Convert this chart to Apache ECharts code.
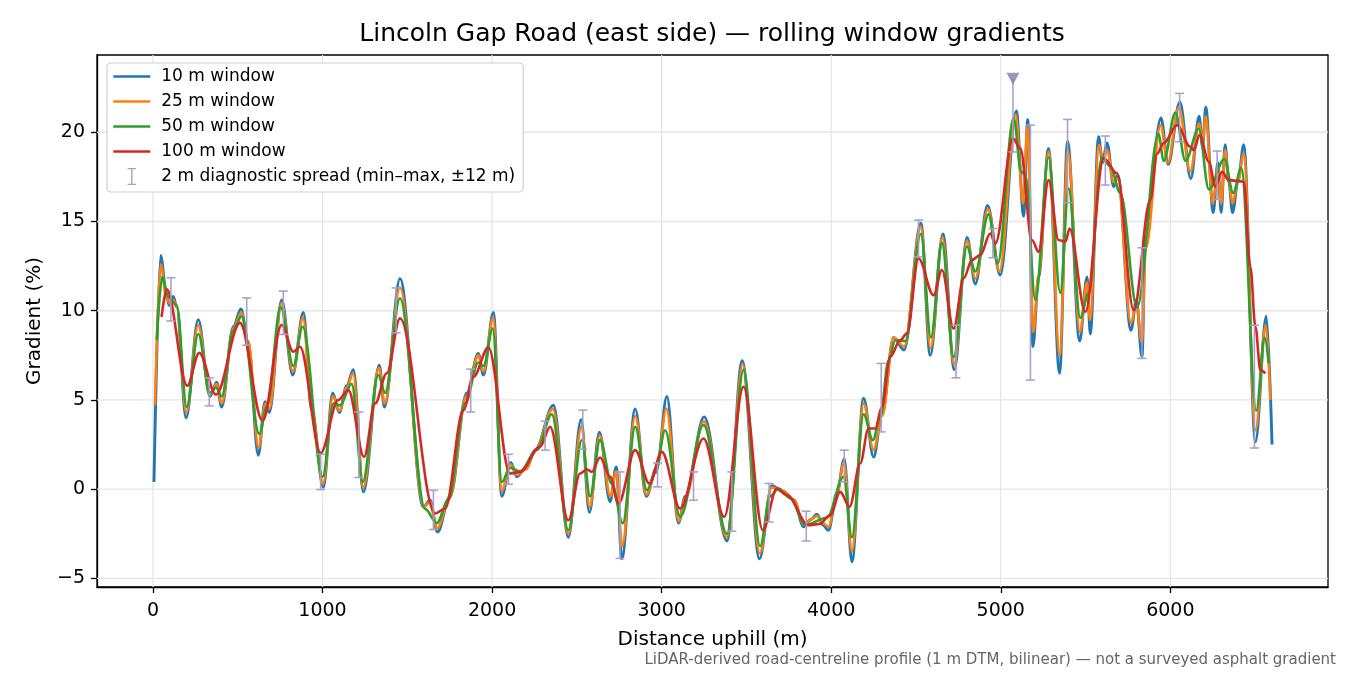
<!DOCTYPE html>
<html>
<head>
<meta charset="utf-8">
<script src="https://cdn.jsdelivr.net/npm/echarts@6/dist/echarts.min.js"></script>
<style>html,body{margin:0;padding:0;background:#fff}#c{width:1350px;height:675px}</style>
</head>
<body>
<div id="c"></div>
<script>
// ---- data ----
const xTicks = [0, 1000, 2000, 3000, 4000, 5000, 6000];
const yTicks = [-5, 0, 5, 10, 15, 20];

const d10 = [6,45,81,96,120,140,195,267,336,376,405,474,519,562,621,661,686,759,824,887,936,1005,1060,1099,1143,1182,1241,1335,1365,1457,1595,1634,1678,1752,1851,1919,1949,2008,2057,2110,2146,2200,2254,2362,2450,2525,2574,2633,2696,2732,2765,2844,2909,2972,3031,3099,3139,3251,3385,3475,3577,3650,3719,3780,3837,3880,3916,3950,3984,4033,4077,4122,4191,4250,4300,4368,4430,4529,4584,4659,4726,4801,4850,4922,4997,5092,5135,5159,5190,5223,5282,5347,5394,5465,5509,5528,5577,5600,5627,5666,5690,5768,5800,5833,5853,5945,5987,6056,6121,6170,6190,6209,6253,6280,6300,6323,6345,6367,6400,6433,6502,6566,6600];
const g10 = [0.4,13.1,10.8,10.3,10.8,10.2,4.0,9.5,5.2,6.0,4.6,9.1,10.1,8.2,1.9,4.9,4.3,10.6,6.4,9.9,4.4,0.1,5.4,4.3,5.8,6.7,-0.15,6.95,4.6,11.8,-1.0,-0.6,-2.4,-0.4,5.4,7.6,6.4,9.9,-0.4,1.5,0.7,1.2,2.2,4.7,-2.7,3.9,-1.3,3.2,-0.7,1.25,-3.9,4.5,-0.4,1.25,5.2,-1.9,-0.4,4.05,-2.9,7.2,-3.9,0.2,-0.15,-0.6,-2.1,-1.7,-1.4,-2.0,-2.3,-0.24,1.7,-4.07,5.1,1.8,4.2,8.5,7.8,14.9,7.5,14.3,6.7,14.1,11.5,15.9,12.0,21.2,15.3,20.7,8.0,11.9,19.1,6.5,19.5,8.3,11.9,8.7,19.75,18.3,19.4,16.95,17.6,8.9,10.6,7.4,14.1,20.8,18.2,21.7,17.4,20.9,19.2,21.4,15.5,18.3,15.5,19.3,17.2,15.5,17.3,19.3,2.65,9.7,2.5];

const d25 = [12,45,81,100,120,140,196,267,336,376,405,474,521,562,623,663,686,757,826,885,936,1003,1062,1100,1143,1180,1240,1333,1366,1457,1597,1634,1676,1750,1848,1919,1949,2006,2057,2108,2146,2200,2256,2358,2450,2527,2576,2635,2698,2732,2767,2844,2911,2970,3028,3102,3139,3249,3385,3478,3579,3648,3719,3780,3840,3880,3916,3950,3984,4033,4075,4122,4191,4250,4300,4368,4430,4529,4586,4656,4724,4801,4850,4925,4992,5088,5132,5157,5192,5223,5282,5348,5396,5467,5509,5526,5580,5605,5627,5666,5690,5768,5800,5833,5855,5943,5985,6050,6118,6170,6190,6209,6250,6280,6300,6323,6345,6367,6400,6433,6502,6563,6590];
const g25 = [4.7,12.6,10.7,10.4,10.6,10.2,4.3,9.2,5.3,5.9,4.8,9.0,9.9,8.3,2.3,4.8,4.5,10.4,6.6,9.6,4.6,0.3,5.2,4.4,5.7,6.5,0.1,6.8,4.8,11.3,-1.0,-0.7,-2.2,-0.5,5.2,7.5,6.6,9.6,-0.1,1.4,0.8,1.1,2.2,4.5,-2.5,3.5,-1.0,3.0,-0.4,1.0,-3.2,4.1,-0.3,1.1,4.5,-1.8,-0.5,3.8,-2.7,7.0,-3.6,0.1,-0.1,-0.6,-2.0,-1.7,-1.5,-1.9,-2.1,-0.3,1.5,-3.5,4.8,2.2,4.1,8.5,8.0,14.7,7.9,14.1,7.0,13.9,11.8,15.7,12.2,21.0,16.0,20.3,8.8,12.0,18.9,7.5,19.0,8.8,11.6,9.5,19.3,18.4,19.0,17.2,17.4,9.3,10.3,8.2,13.5,20.4,18.3,21.4,17.8,20.5,19.5,20.9,16.0,18.0,16.0,19.0,17.3,16.0,17.3,18.8,3.3,9.2,5.0];

const d50 = [22,55,90,140,199,267,336,372,405,474,523,627,671,753,828,883,1001,1064,1103,1172,1237,1329,1369,1457,1605,1674,1742,1841,1919,1949,2004,2057,2106,2165,2264,2352,2450,2529,2578,2637,2706,2771,2844,2913,2962,3021,3109,3247,3385,3483,3581,3640,3689,3758,3847,3975,4073,4122,4191,4246,4289,4338,4378,4437,4529,4588,4653,4722,4801,4850,4928,4982,5076,5120,5145,5204,5282,5351,5400,5469,5518,5597,5646,5705,5804,5930,5961,6030,6089,6168,6227,6319,6371,6418,6507,6556,6580];
const g50 = [8.35,11.9,10.8,10.3,4.6,8.7,5.4,5.7,5.2,8.9,9.7,3.1,4.6,10.2,6.9,9.1,0.7,4.8,4.7,5.9,0.4,6.4,5.4,10.7,-1.1,-1.9,-0.6,4.8,7.1,6.9,9.0,0.4,1.2,1.0,2.2,4.2,-2.3,2.75,-0.4,2.75,0.3,-1.9,3.5,-0.06,0.9,3.3,-1.55,3.6,-2.5,6.7,-3.2,-0.4,0.04,-0.5,-2.0,-1.6,0.7,-2.7,4.2,2.75,4.05,7.2,8.35,8.3,14.3,8.5,13.8,7.4,13.6,12.2,15.4,12.65,20.8,17.8,17.6,10.6,18.6,11.0,16.85,9.6,11.0,18.6,18.1,16.6,10.2,19.9,18.4,21.1,18.4,20.2,16.8,18.5,16.6,18.0,4.4,8.5,7.05];

const d100 = [51,81,202,273,372,513,647,759,828,867,989,1093,1152,1245,1310,1379,1457,1664,1723,1831,1890,1978,2106,2165,2283,2342,2450,2519,2559,2588,2637,2696,2745,2844,2928,3001,3109,3247,3369,3483,3597,3680,3739,3866,3930,3994,4053,4108,4171,4220,4260,4299,4348,4407,4447,4515,4604,4653,4722,4781,4830,4879,4938,4968,5072,5115,5184,5223,5282,5341,5381,5406,5499,5607,5686,5784,5882,5922,5961,6040,6118,6138,6173,6227,6266,6305,6344,6433,6472,6502,6531,6561];
const g100 = [9.66,11.2,5.8,7.64,5.3,9.32,3.83,9.2,7.7,7.98,2.03,5.0,5.55,1.81,4.8,6.5,9.57,-1.36,-1.08,4.43,6.3,7.94,0.88,0.97,2.37,3.49,-1.74,0.88,1.12,0.97,1.78,0.69,-0.8,2.19,0.32,2.09,-1.08,2.84,-1.55,5.74,-2.3,0.04,-0.34,-2.02,-1.95,-1.46,-0.15,-0.99,1.44,3.4,3.4,4.61,7.42,8.35,8.73,12.93,10.87,12.28,9.0,11.81,12.84,13.12,14.33,13.77,19.66,19.1,13.96,13.3,17.32,13.96,13.87,14.6,9.94,18.54,17.7,10.03,16.2,18.8,19.4,20.4,19.19,19.0,19.84,18.35,16.95,17.79,17.32,17.23,12.46,9.1,6.67,6.49];

// 2 m diagnostic spread (min–max, ±12 m)
const ebDist = [106,332,553,769,989,1214,1434,1654,1874,2097,2313,2535,2755,2976,3188,3414,3634,3853,4077,4295,4515,4736,4954,5175,5394,5617,5833,6055,6276,6496];
const ebLow  = [9.43,4.67,8.07,8.67,-0.02,0.66,8.76,-2.26,4.33,0.28,2.19,2.24,-3.88,0.13,-0.62,-2.35,-1.83,-2.9,0.41,3.21,13.02,6.24,12.97,6.11,16.05,17.04,7.33,19.47,16.24,2.31];
const ebHigh = [11.85,6.24,10.72,11.1,1.96,4.33,11.28,-0.06,6.73,1.96,3.81,4.43,0.97,1.47,0.97,0.97,0.32,-1.23,2.19,7.05,15.08,9.19,14.61,20.4,20.72,19.79,13.53,22.18,18.95,9.19];
// spread bar clipped at the top, marked with a triangle
const spikeDist = [5072];
const spikeLow = [18.9];
const spikeHigh = [23.0];

const names = ['10 m window', '25 m window', '50 m window', '100 m window'];
const ebName = '2 m diagnostic spread (min\u2013max, \u00b112 m)';
const colors = ['#1f77b4', '#ff7f0e', '#2ca02c', '#d62728'];
const ebColor = '#a99cc6';
const FONT = 'DejaVu Sans';

function pairs(xs, ys) { return xs.map((x, i) => [x, ys[i]]); }
const lineSets = [[d10, g10], [d25, g25], [d50, g50], [d100, g100]];

const ebData = ebDist.map((x, i) => [x, ebLow[i], ebHigh[i], 1])
  .concat(spikeDist.map((x, i) => [x, spikeLow[i], spikeHigh[i], 0]));

const chart = echarts.init(document.getElementById('c'), null, {renderer: 'canvas'});
const minus = v => (v < 0 ? '\u2212' + Math.abs(v) : String(v));

const series = [];
// grid lines (drawn from tick arrays through the axis scales)
series.push({
  type: 'custom', name: 'vgrid', z: 1, silent: true, data: xTicks.map(v => [v]),
  renderItem: (params, api) => {
    const cs = params.coordSys; const p = api.coord([api.value(0), 0]);
    return {type: 'line', shape: {x1: p[0], y1: cs.y, x2: p[0], y2: cs.y + cs.height}, style: {stroke: '#e6e6e6', lineWidth: 1.3}};
  }
});
series.push({
  type: 'custom', name: 'hgrid', z: 1, silent: true, data: yTicks.map(v => [0, v]),
  renderItem: (params, api) => {
    const cs = params.coordSys; const p = api.coord([0, api.value(1)]);
    return {type: 'line', shape: {x1: cs.x, y1: p[1], x2: cs.x + cs.width, y2: p[1]}, style: {stroke: '#e6e6e6', lineWidth: 1.3}};
  }
});
lineSets.forEach((s, i) => {
  series.push({
    type: 'line', name: names[i], data: pairs(s[0], s[1]), z: 2 + i,
    symbol: 'none', smooth: 0.35, smoothMonotone: 'x', clip: true,
    lineStyle: {color: colors[i], width: i === 0 ? 2.9 : 2.6},
    itemStyle: {color: colors[i]}
  });
});
series.push({
  type: 'custom', name: ebName, z: 7, data: ebData,
  itemStyle: {color: ebColor},
  renderItem: (params, api) => {
    const x = api.value(0), lo = api.value(1), hi = api.value(2), cap = api.value(3);
    const a = api.coord([x, lo]), b = api.coord([x, hi]);
    const w = 4.5, st = {stroke: ebColor, lineWidth: 1.6, opacity: 0.95};
    const ch = [
      {type: 'line', shape: {x1: a[0], y1: a[1], x2: b[0], y2: b[1]}, style: st},
      {type: 'line', shape: {x1: a[0] - w, y1: a[1], x2: a[0] + w, y2: a[1]}, style: st}
    ];
    if (cap) ch.push({type: 'line', shape: {x1: b[0] - w, y1: b[1], x2: b[0] + w, y2: b[1]}, style: st});
    return {type: 'group', children: ch};
  }
});
series.push({
  type: 'scatter', name: 'spike', z: 8, silent: true,
  data: pairs(spikeDist, spikeHigh),
  symbol: 'path://M0,0L10,0L5,10Z', symbolSize: [13, 12],
  itemStyle: {color: '#8a7aae'}
});

chart.setOption({
  animation: false,
  backgroundColor: '#ffffff',
  textStyle: {fontFamily: FONT},
  title: {
    text: 'Lincoln Gap Road (east side) \u2014 rolling window gradients',
    left: 712, top: 22, textAlign: 'center', padding: 0,
    textStyle: {fontFamily: FONT, fontSize: 25, fontWeight: 'normal', color: '#000'}
  },
  grid: {left: 97, top: 55, right: 22, bottom: 88, show: true, borderColor: '#000', borderWidth: 1.3, backgroundColor: 'transparent'},
  xAxis: {
    type: 'value', min: -330, max: 6930,
    name: 'Distance uphill (m)', nameLocation: 'middle', nameGap: 43,
    nameTextStyle: {fontFamily: FONT, fontSize: 20, color: '#000'},
    axisLine: {show: true, onZero: false, lineStyle: {color: '#000', width: 1.3}},
    axisTick: {show: true, length: 6, customValues: xTicks, lineStyle: {color: '#000', width: 1.3}},
    axisLabel: {customValues: xTicks, formatter: minus, fontFamily: FONT, fontSize: 19, color: '#000', margin: 15},
    splitLine: {show: false}
  },
  yAxis: {
    type: 'value', min: -5.48, max: 24.33,
    name: 'Gradient (%)', nameLocation: 'middle', nameGap: 52, nameRotate: 90,
    nameTextStyle: {fontFamily: FONT, fontSize: 20, color: '#000'},
    axisLine: {show: true, onZero: false, lineStyle: {color: '#000', width: 1.3}},
    axisTick: {show: true, length: 6, customValues: yTicks, lineStyle: {color: '#000', width: 1.3}},
    axisLabel: {customValues: yTicks, formatter: minus, fontFamily: FONT, fontSize: 19, color: '#000', margin: 12},
    splitLine: {show: false}
  },
  legend: {
    orient: 'vertical', left: 107, top: 63, padding: [5, 8, 7, 5],
    itemWidth: 37, itemHeight: 17, itemGap: 8,
    backgroundColor: '#ffffff', borderColor: '#cfcfcf', borderWidth: 1.2, borderRadius: 4,
    lineStyle: {width: 2.6},
    textStyle: {fontFamily: FONT, fontSize: 17, color: '#000', padding: [0, 0, 0, 6]},
    data: names.map(n => ({name: n, itemStyle: {opacity: 0}}))
      .concat([{name: ebName, icon: 'path://M0,0H8V1.2H4.65V14.8H8V16H0V14.8H3.35V1.2H0Z'}])
  },
  graphic: [{
    type: 'text', right: 14, top: 653,
    style: {text: 'LiDAR-derived road-centreline profile (1 m DTM, bilinear) \u2014 not a surveyed asphalt gradient', fontFamily: FONT, fontSize: 15, fill: '#666'}
  }],
  series: series
});
</script>
</body>
</html>
